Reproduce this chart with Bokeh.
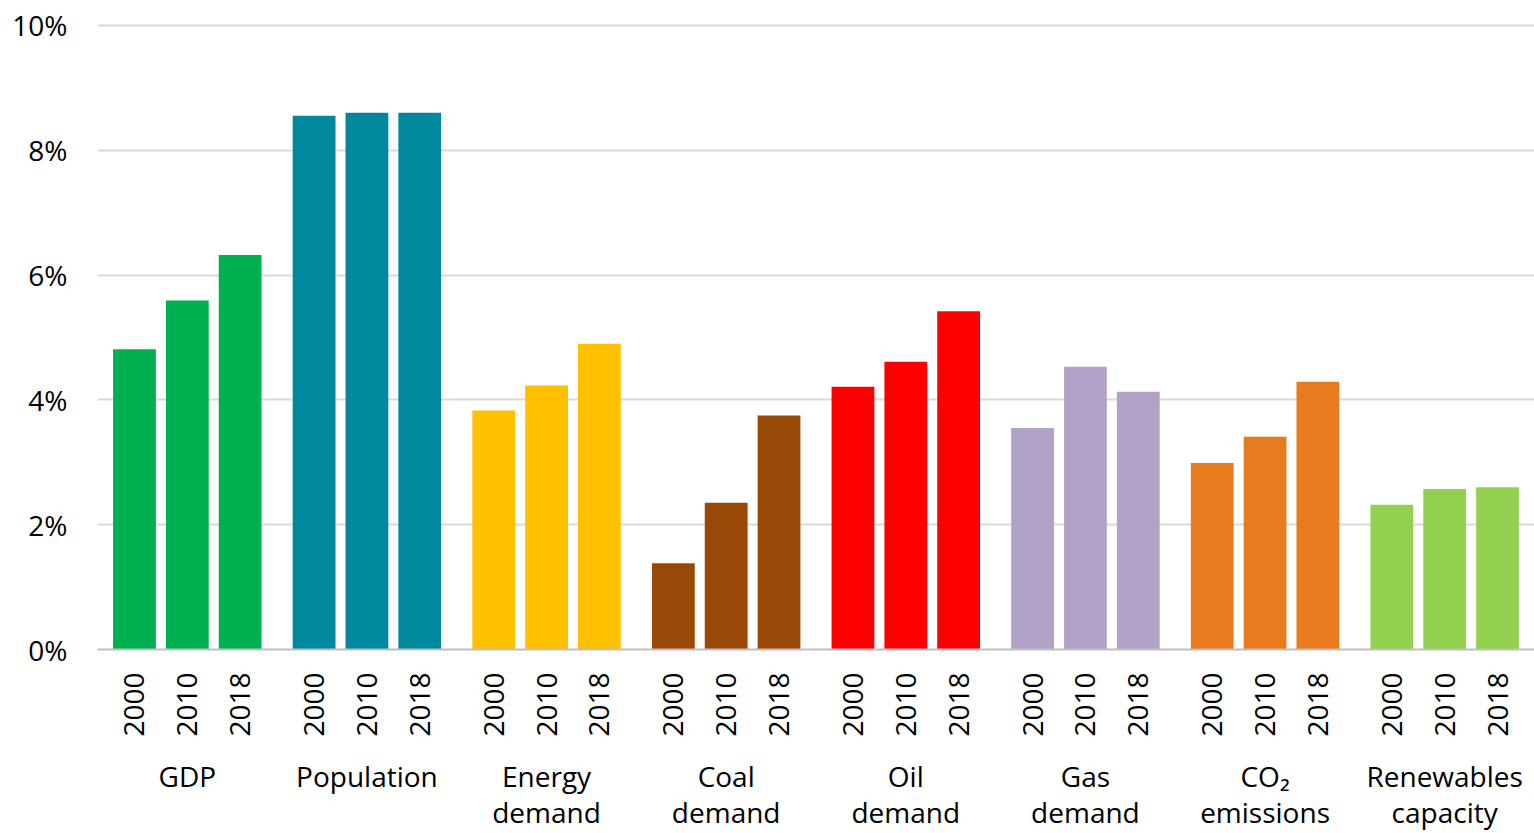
import math
from bokeh.plotting import figure
from bokeh.models import (FactorRange, ColumnDataSource, PrintfTickFormatter, FixedTicker,
                          CategoricalAxis)
from bokeh.embed import file_html
from bokeh.resources import INLINE

label_line1 = ["GDP", "Population", "Energy", "Coal", "Oil", "Gas", "CO\u2082", "Renewables"]
label_line2 = [" ", "  ", "demand", "demand", "demand", "demand", "emissions", "capacity"]
years = ["2000", "2010", "2018"]
colors = ["#00B050", "#00889E", "#FFC000", "#984807", "#FF0000", "#B3A2C7", "#E87B1E", "#92D050"]

gdp = [4.81, 5.59, 6.32]
population = [8.55, 8.60, 8.60]
energy = [3.83, 4.23, 4.90]
coal = [1.38, 2.35, 3.75]
oil = [4.21, 4.61, 5.42]
gas = [3.55, 4.53, 4.13]
co2 = [2.99, 3.41, 4.29]
renewables = [2.32, 2.57, 2.60]
series = [gdp, population, energy, coal, oil, gas, co2, renewables]

x, top, fill = [], [], []
for g, vals, c in zip(label_line1, series, colors):
    for yr, v in zip(years, vals):
        x.append((g, yr))
        top.append(v)
        fill.append(c)
src = ColumnDataSource(dict(x=x, top=top, color=fill))

FONT = "Open Sans"
FS = "28px"
p = figure(
    width=1534, height=833,
    x_range=FactorRange(*x, group_padding=0.4, factor_padding=0.0,
                        range_padding=0.2, range_padding_units="absolute"),
    y_range=(0, 10.03),
    output_backend="svg", toolbar_location=None,
    min_border_left=97, min_border_right=0, min_border_top=23, min_border_bottom=0,
)
p.vbar(x="x", top="top", width=0.81, source=src, fill_color="color", line_color=None)

p.outline_line_color = None
p.xgrid.grid_line_color = None
p.ygrid.grid_line_color = "#D9D9D9"
p.ygrid.grid_line_width = 2

p.yaxis.ticker = FixedTicker(ticks=[0, 2, 4, 6, 8, 10])
p.yaxis.formatter = PrintfTickFormatter(format="%d%%")
p.yaxis.axis_line_color = None
p.yaxis.major_tick_line_color = None
p.yaxis.minor_tick_line_color = None
p.yaxis.major_label_standoff = 24
p.yaxis.major_label_text_font = FONT
p.yaxis.major_label_text_font_size = FS
p.yaxis.major_label_text_color = "#000000"

xa = p.xaxis[0]
xa.axis_line_color = "#BFBFBF"
xa.axis_line_width = 2
xa.major_tick_line_color = None
xa.minor_tick_line_color = None
xa.separator_line_color = None
xa.major_label_orientation = math.pi / 2
xa.major_label_standoff = 17
xa.major_label_text_font = FONT
xa.major_label_text_font_size = FS
xa.major_label_text_color = "#000000"
xa.group_text_font = FONT
xa.group_text_font_size = FS
xa.group_text_color = "#000000"
xa.group_text_font_style = "normal"
xa.group_label_orientation = "horizontal"

# second line of the group names: one slot per group, aligned with the group centres
p.extra_x_ranges["line2"] = FactorRange(*zip(label_line1, label_line2), group_padding=0.0,
                                        factor_padding=0.0, range_padding=0.0)
ax2 = CategoricalAxis(x_range_name="line2")
ax2.axis_line_color = None
ax2.major_tick_line_color = None
ax2.minor_tick_line_color = None
ax2.separator_line_color = None
ax2.major_label_standoff = -11
ax2.major_label_text_font = FONT
ax2.major_label_text_font_size = FS
ax2.major_label_text_color = "#000000"
ax2.group_text_font_size = "1px"
ax2.group_text_color = None
p.add_layout(ax2, "below")

open("out.html", "w").write(file_html(p, INLINE))
